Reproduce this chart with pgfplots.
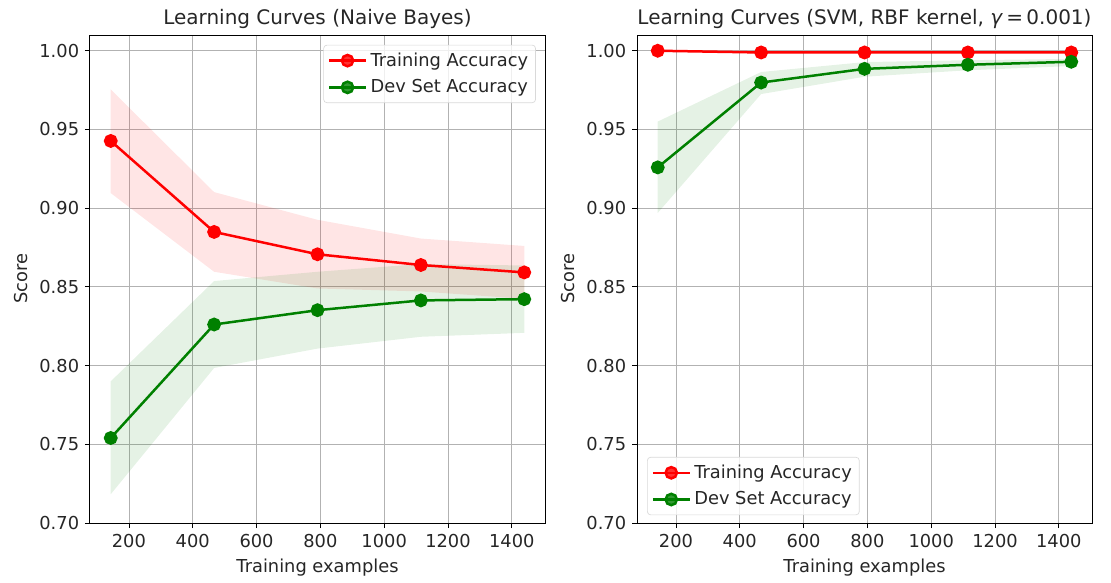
\documentclass[border=0pt]{standalone}
\usepackage{fontspec}
\setmainfont{DejaVu Sans}
\usepackage{pgfplots}
\usepackage{pgfplotstable}
\pgfplotsset{compat=1.18}

% mean curves: x, mean score
\pgfplotstableread{
x mean
143 0.9427
467 0.8849
791 0.8707
1115 0.8639
1439 0.8592
}\nbtrain
\pgfplotstableread{
x mean
143 0.7540
467 0.8261
791 0.8352
1115 0.8414
1439 0.8422
}\nbdev
\pgfplotstableread{
x mean
143 1.0000
467 0.9989
791 0.9989
1115 0.9989
1439 0.9989
}\svmtrain
\pgfplotstableread{
x mean
143 0.9259
467 0.9798
791 0.9885
1115 0.9911
1439 0.9930
}\svmdev

% bands: upper edge forward, then lower edge back
\pgfplotstableread{
x y
143 0.9754
467 0.9102
791 0.8926
1115 0.8807
1439 0.8760
1439 0.8424
1115 0.8471
791 0.8490
467 0.8596
143 0.9096
}\nbtrainband
\pgfplotstableread{
x y
143 0.7900
467 0.8537
791 0.8596
1115 0.8645
1439 0.8636
1439 0.8208
1115 0.8183
791 0.8108
467 0.7985
143 0.7183
}\nbdevband
\pgfplotstableread{
x y
143 1.0004
467 0.9994
791 0.9994
1115 0.9993
1439 0.9993
1439 0.9985
1115 0.9985
791 0.9984
467 0.9984
143 0.9996
}\svmtrainband
\pgfplotstableread{
x y
143 0.9550
467 0.9865
791 0.9928
1115 0.9940
1439 0.9948
1439 0.9903
1115 0.9876
791 0.9835
467 0.9725
143 0.8970
}\svmdevband

\definecolor{mplred}{HTML}{FF0000}
\definecolor{mplgreen}{HTML}{008000}

\pgfplotsset{
  lc/.style={
    scale only axis,
    width=273pt, height=292.8pt,
    anchor=south west,
    xmin=78, xmax=1504,
    ymin=0.70, ymax=1.01,
    xtick={200,400,...,1400},
    ytick={0.70,0.75,0.80,0.85,0.90,0.95,1.00},
    yticklabel style={/pgf/number format/.cd,fixed,fixed zerofill,precision=2},
    xticklabel style={/pgf/number format/.cd,fixed,1000 sep={}},
    /pgf/number format/assume math mode=true,
    tick label style={font=\fontsize{10.7}{13}\selectfont, text=black!85},
    label style={font=\fontsize{10.7}{13}\selectfont, text=black!85},
    title style={font=\fontsize{12}{14}\selectfont, text=black!85, yshift=-6pt},
    tick pos=left, tick align=outside,
    major tick length=3pt,
    every tick/.style={black, line width=0.5pt},
    axis line style={black, line width=0.6pt},
    grid=major,
    major grid style={gray!60, line width=0.5pt},
    xlabel={Training examples},
    ylabel={Score},
    legend cell align=left,
    legend style={draw=gray!30, rounded corners=2pt, fill=white, fill opacity=0.8,
      text opacity=1, font=\fontsize{10.7}{13}\selectfont, text=black!85,
      row sep=2.5pt, inner sep=2.5pt},
    legend image code/.code={
      \draw[mark repeat=2, mark phase=2]
        plot coordinates {(0cm,0cm) (0.39cm,0cm) (0.78cm,0cm)};
    },
  },
  mean/.style={line width=1.5pt, mark=*, mark size=3.4pt, mark options={solid}},
  band/.style={draw=none, fill=#1, fill opacity=0.1, forget plot},
}

\begin{document}
\begin{tikzpicture}
\path[use as bounding box] (0,0) rectangle (666.6pt,349.2pt);

\begin{axis}[lc, at={(54pt,35.4pt)},
  title={Learning Curves (Naive Bayes)},
  legend style={at={(0.98,0.98)}, anchor=north east}]
\addplot[band=mplred] table[x=x, y=y] {\nbtrainband} -- cycle;
\addplot[band=mplgreen] table[x=x, y=y] {\nbdevband} -- cycle;
\addplot[mean, mplred] table[x=x, y=mean] {\nbtrain};
\addplot[mean, mplgreen] table[x=x, y=mean] {\nbdev};
\legend{Training Accuracy, Dev Set Accuracy}
\end{axis}

\begin{axis}[lc, at={(382.2pt,35.4pt)},
  title={Learning Curves (SVM, RBF kernel, \textit{γ}\,=\,0.001)},
  legend style={at={(0.022,0.016)}, anchor=south west}]
\addplot[band=mplred] table[x=x, y=y] {\svmtrainband} -- cycle;
\addplot[band=mplgreen] table[x=x, y=y] {\svmdevband} -- cycle;
\addplot[mean, mplred] table[x=x, y=mean] {\svmtrain};
\addplot[mean, mplgreen] table[x=x, y=mean] {\svmdev};
\legend{Training Accuracy, Dev Set Accuracy}
\end{axis}
\end{tikzpicture}
\end{document}
